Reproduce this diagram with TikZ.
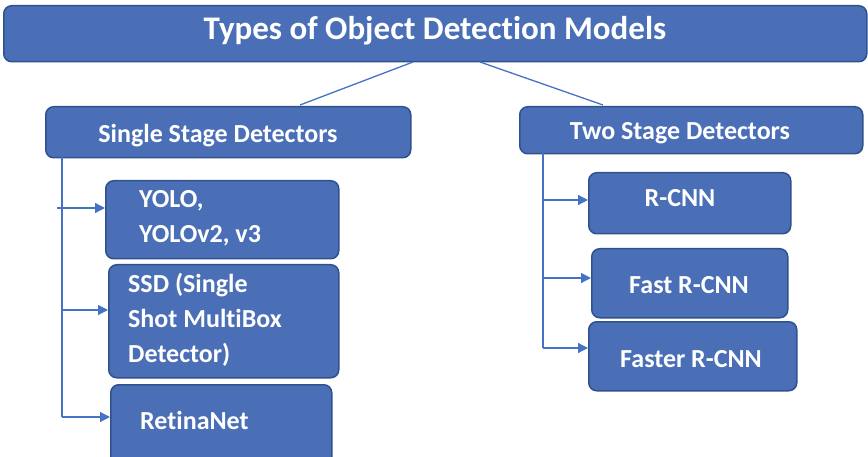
\documentclass[tikz,border=0pt]{standalone}
\usepackage{fontspec}
\setmainfont[Ligatures=NoCommon]{Carlito}
\usetikzlibrary{arrows.meta}
\definecolor{boxfill}{HTML}{4A6FB7}
\definecolor{boxedge}{HTML}{2F528F}
\definecolor{wire}{HTML}{4472C4}
\tikzset{
  box/.style={draw=boxedge, fill=boxfill, line width=1.5pt, rounded corners=8pt,
    anchor=north west, inner sep=0pt},
  lbl/.style={text=white, font=\bfseries\fontsize{26}{35}\selectfont, inner sep=0pt, align=left},
  wireline/.style={draw=wire, line width=1.3pt},
  arr/.style={wireline, -{Triangle[length=10pt,width=10pt]}}
}
\begin{document}
\begin{tikzpicture}[x=1pt,y=-1pt]
\useasboundingbox (0,0) rectangle (868,457);
% top-level box
\node[box, minimum width=863, minimum height=56] (title) at (3,5) {};
\node[text=white, font=\bfseries\fontsize{33}{38}\selectfont, inner sep=0pt] (titletxt) at (435,31) {Types of Object Detection Models};
% category boxes
\node[box, minimum width=365, minimum height=51] (single) at (45,106) {};
\node[lbl, anchor=center] (singletxt) at (218,136) {Single Stage Detectors};
\node[box, minimum width=343, minimum height=47] (two) at (519,106) {};
\node[lbl, anchor=center] (twotxt) at (680,133) {Two Stage Detectors};
% single stage models
\node[box, minimum width=233, minimum height=78] (yolo) at (105,180) {};
\node[lbl, anchor=west] (yolotxt) at (139,218) {YOLO,\\YOLOv2, v3};
\node[box, minimum width=230, minimum height=113] (ssd) at (108,264) {};
\node[lbl, anchor=west] (ssdtxt) at (128,320) {SSD (Single\\Shot MultiBox\\Detector)};
\node[box, minimum width=221, minimum height=90] (retina) at (110,384) {};
\node[lbl, anchor=west] (retinatxt) at (140,420) {RetinaNet};
% two stage models
\node[box, minimum width=202, minimum height=61] (rcnn) at (588,172) {};
\node[lbl, anchor=center] (rcnntxt) at (680,198) {R-CNN};
\node[box, minimum width=196, minimum height=69] (fast) at (591,248) {};
\node[lbl, anchor=center] (fasttxt) at (689,285) {Fast R-CNN};
\node[box, minimum width=208, minimum height=69] (faster) at (588,321) {};
\node[lbl, anchor=center] (fastertxt) at (691,359) {Faster R-CNN};
% connectors from the top box
\coordinate (tl) at (413,62);
\coordinate (tr) at (480,62);
\draw[wireline] (tl) -- (300,105);
\draw[wireline] (tr) -- (603,105);
% single stage tree
\coordinate (sv) at (62,157);
\coordinate (sy) at (57,208);
\draw[wireline] (sv) -- (62,417);
\draw[arr] (sy) -- (yolo.west |- sy);
\draw[arr] (62,310) -- (ssd.west |- 0,310);
\draw[arr] (62,417) -- (retina.west |- 0,417);
% two stage tree
\coordinate (tv) at (543,153);
\draw[wireline] (tv) -- (543,348);
\draw[arr] (543,200) -- (rcnn.west |- 0,200);
\draw[arr] (543,278) -- (fast.west |- 0,278);
\draw[arr] (543,348) -- (faster.west |- 0,348);
\end{tikzpicture}
\end{document}
